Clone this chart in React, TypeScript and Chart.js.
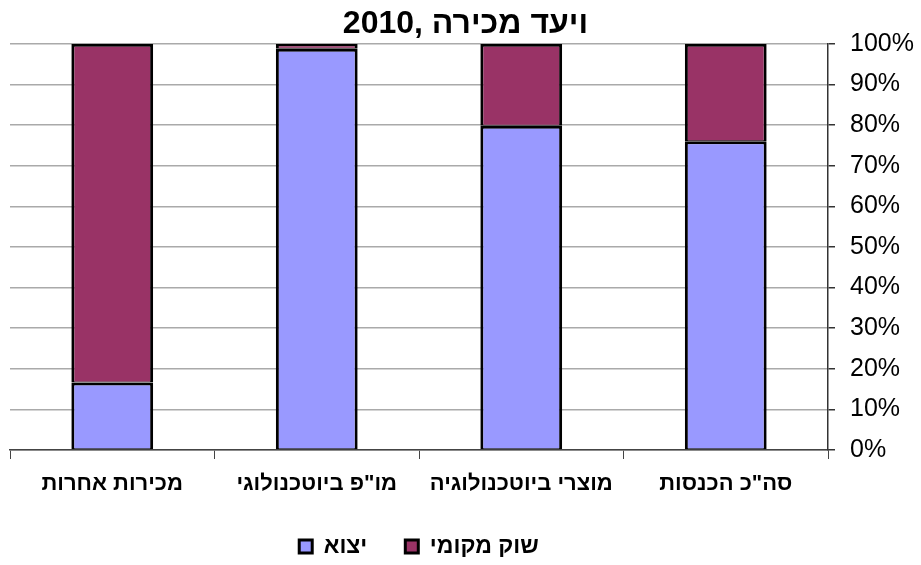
import React, { useEffect, useRef } from "react";
import { Chart, registerables } from "chart.js";

Chart.register(...registerables);

const TITLE = "2010, ויעד מכירה";
const categories = ["מכירות אחרות", 'מו"פ ביוטכנולוגי', "מוצרי ביוטכנולוגיה", 'סה"כ הכנסות'];
const exportValues = [16.6, 98.8, 79.8, 76.0];
const localValues = [83.4, 1.2, 20.2, 24.0];
const seriesNames = ["יצוא", "שוק מקומי"];
const yTicks = [0, 10, 20, 30, 40, 50, 60, 70, 80, 90, 100];

const FONT = '"Liberation Sans", Arial, sans-serif';

export default function App() {
  const ref = useRef<HTMLCanvasElement | null>(null);

  useEffect(() => {
    if (!ref.current) return;
    const bw = { top: 3, left: 3, right: 3, bottom: 1 };
    const chart = new Chart(ref.current, {
      type: "bar",
      data: {
        labels: categories,
        datasets: [
          {
            label: seriesNames[0],
            data: exportValues,
            backgroundColor: "#9999FF",
            borderColor: "#000000",
            borderWidth: bw,
            borderSkipped: false,
            barPercentage: 0.4,
            categoryPercentage: 1,
          },
          {
            label: seriesNames[1],
            data: localValues,
            backgroundColor: "#993366",
            borderColor: "#000000",
            borderWidth: bw,
            borderSkipped: false,
            barPercentage: 0.4,
            categoryPercentage: 1,
          },
        ],
      },
      options: {
        animation: false,
        responsive: true,
        maintainAspectRatio: false,
        layout: { padding: { left: 10, right: 0, top: 0, bottom: -3 } },
        plugins: {
          tooltip: { enabled: false },
          title: {
            display: true,
            text: TITLE,
            color: "#000",
            font: { family: FONT, size: 32, weight: "bold", lineHeight: 1.15 },
            padding: { top: 6, bottom: 1 },
          },
          legend: {
            position: "bottom",
            fullSize: false,
            labels: {
              color: "#000",
              font: { family: FONT, size: 23, weight: "bold" },
              boxWidth: 13,
              boxHeight: 13,
              padding: 38,
              generateLabels: (c: any) =>
                c.data.datasets.map((ds: any, i: number) => ({
                  text: ds.label,
                  fillStyle: ds.backgroundColor,
                  strokeStyle: "#000",
                  lineWidth: 3,
                  hidden: false,
                  datasetIndex: i,
                  fontColor: "#000",
                })),
            },
          },
        },
        scales: {
          x: {
            stacked: true,
            offset: true,
            grid: {
              offset: true,
              drawOnChartArea: false,
              drawTicks: true,
              tickLength: 9,
              tickColor: "#444",
            },
            border: { color: "#444", width: 1.5 },
            ticks: {
              color: "#000",
              font: { family: FONT, size: 22, weight: "bold" },
              padding: 12,
              maxRotation: 0,
              autoSkip: false,
            },
            afterFit: (s: any) => {
              s.height = 47;
            },
          },
          y: {
            stacked: true,
            position: "right",
            min: 0,
            max: 100,
            afterBuildTicks: (s: any) => {
              s.ticks = yTicks.map((v) => ({ value: v }));
            },
            grid: {
              color: "#aaaaaa",
              lineWidth: 1.5,
              tickLength: 7,
              tickColor: "#333",
            },
            border: { color: "#333", width: 1.5 },
            ticks: {
              color: "#000",
              font: { family: FONT, size: 25 },
              padding: 15,
              callback: (v: any) => v + "%",
            },
            afterFit: (s: any) => {
              s.width = 93;
            },
          },
        },
      },
    });
    return () => chart.destroy();
  }, []);

  return (
    <div style={{ position: "absolute", left: 0, top: 0, width: 921, height: 565, background: "#fff" }}>
      <canvas ref={ref} />
    </div>
  );
}
